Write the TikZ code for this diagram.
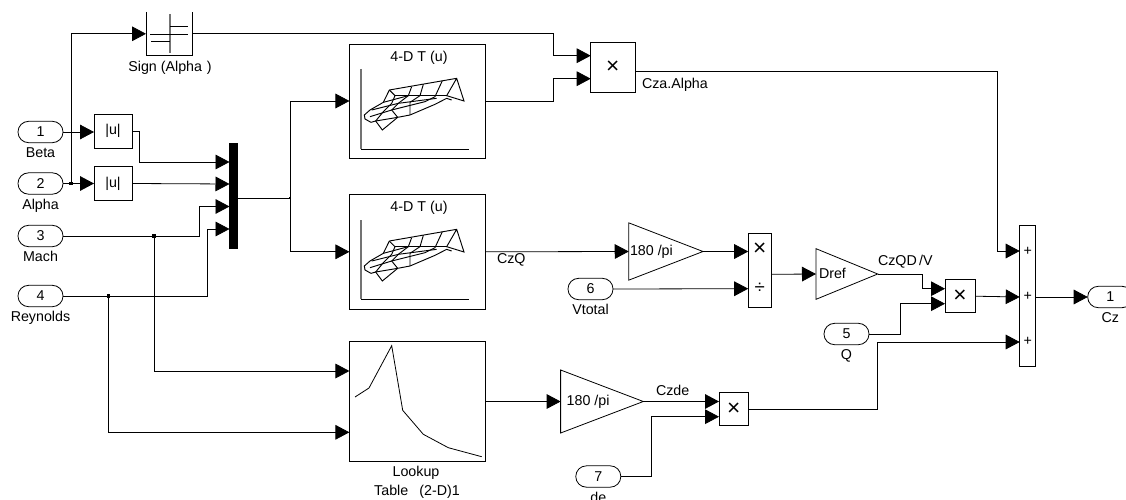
\documentclass[tikz,border=0pt]{standalone}
\usepackage{fontspec}
\setmainfont{Liberation Sans}
\usepackage{tikz}
\usetikzlibrary{shapes.geometric, arrows.meta}
\tikzstyle{arrow} = [line width=0.6pt,-{Triangle[length=10.5pt,width=11pt]}]
\tikzstyle{wire} = [line width=0.6pt]
\tikzstyle{block} = [rectangle, draw=black, line width=0.6pt, inner sep=0pt, outer sep=0pt, text centered]
\tikzstyle{port} = [rectangle, rounded corners=7.9pt, draw=black, line width=0.6pt, inner sep=0pt, outer sep=0pt, minimum width=33.75pt, minimum height=16pt, text centered]
\tikzstyle{gain} = [isosceles triangle, isosceles triangle stretches, draw=black, line width=0.6pt, inner sep=0pt, outer sep=0pt, anchor=apex]
\tikzstyle{junction} = [rectangle, fill=black, inner sep=0pt, minimum size=2.6pt]
\tikzstyle{tag} = [inner sep=0pt, outer sep=0pt, text height=7.6pt, text depth=2pt]
\newcommand{\meshicon}[1]{
	\begin{scope}[shift={#1},x=0.25pt,y=-0.25pt,line width=0.7pt]
		\draw (103,75) -- (305,40) -- (327,108) -- (275,92) -- (305,40);
		\draw (103,75) -- (85,112) -- (45,135) -- (28,150) -- (30,162) -- (48,172) -- (62,168) -- (82,195) -- (128,157) -- (165,150) -- (240,118) -- (275,100) -- (290,105);
		\draw (120,92) -- (275,92);
		\draw (85,112) -- (160,92);
		\draw (50,135) -- (130,115) -- (245,100);
		\draw (45,155) -- (110,135) -- (210,110);
		\draw (62,168) -- (128,157);
		\draw (103,75) -- (120,92) -- (110,115) -- (85,140) -- (62,168);
		\draw (170,65) -- (160,92) -- (130,115) -- (110,135) -- (128,157);
		\draw (205,58) -- (195,92) -- (165,112) -- (165,150);
		\draw (262,47) -- (240,95) -- (210,110);
	\end{scope}
}
\begin{document}
\begin{tikzpicture}[x=0.75pt,y=-0.75pt,node distance=16.5pt,font=\fontsize{10.7}{12}\selectfont]
		\clip (0,0) rectangle (1126,499);
		\useasboundingbox (0,0) rectangle (1126,499);
		\node (beta) [port] at (40.5,132) {1};
		\node (alpha) [port] at (40.5,183.5) {2};
		\node (mach) [port] at (40.5,236) {3};
		\node (reynolds) [port] at (40.5,296) {4};
		\node (betaTag) [tag, below of=beta] {Beta};
		\node (alphaTag) [tag, below of=alpha] {Alpha};
		\node (machTag) [tag, below of=mach] {Mach};
		\node (reynoldsTag) [tag, below of=reynolds] {Reynolds};
		\node (vtotal) [port] at (590.5,289) {6};
		\node (vtotalTag) [tag, below of=vtotal] {Vtotal};
		\node (q) [port] at (846.5,334) {5};
		\node (qTag) [tag, below of=q] {Q};
		\node (de) [port] at (598.3,476.5) {7};
		\node (deTag) [tag, below of=de] {de};
		\node (cz) [port] at (1110.2,297) {1};
		\node (czTag) [tag, below of=cz] {Cz};
		\node (absA) [block, minimum width=28.5pt, minimum height=25.5pt] at (113,131) {|u|};
		\node (absB) [block, minimum width=28.5pt, minimum height=25pt] at (113,183.5) {|u|};
		\node (mux) [block, fill=black, minimum width=5.6pt, minimum height=78.75pt] at (233.3,195.5) {};
		\coordinate (muxInA) at (229.5,162);
		\coordinate (muxInB) at (229.5,184);
		\coordinate (muxInC) at (229.5,206.5);
		\coordinate (muxInD) at (229.5,229);
		\coordinate (muxOut) at (237,198);
		\node (sign) [minimum width=34.5pt, minimum height=32.8pt, inner sep=0pt, outer sep=0pt] at (169,33.8) {};
		\draw [wire] (sign.north west) -- (sign.south west) -- (sign.south east) -- (sign.north east);
		\draw [line width=0.8pt, black!55] (170,14) -- (170,53);
		\draw [line width=0.6pt] (150,34) -- (188,34) (151,41) -- (170,41) (170,26) -- (188,26);
		\node (signTag) [tag] at (170,68) {Sign (Alpha\,\,)};
		\node (tableA) [block, minimum width=102.2pt, minimum height=85.5pt] at (417.6,101) {};
		\node (tableB) [block, minimum width=102.2pt, minimum height=86.4pt] at (417.6,251.8) {};
		\node (tableATag) [tag] at (419,58) {4-D T (u)};
		\node (tableBTag) [tag] at (419,208) {4-D T (u)};
		\draw [line width=0.8pt, black!55] (361,69) -- (361,149) (361,220) -- (361,299);
		\draw [line width=0.6pt] (361,149) -- (469,149) (361,299) -- (469,299);
		\meshicon{(355,65)}
		\meshicon{(355,216)}
		\node (lookup) [block, minimum width=102.3pt, minimum height=89.7pt] at (417.5,401.5) {};
		\draw [line width=0.6pt] (355,397) -- (369,388) -- (391.7,345.7) -- (402.7,410.3) -- (423.3,434.3) -- (448.3,447.7) -- (481.7,456.7);
		\node (lookupTagA) [tag] at (416,473) {Lookup};
		\node (lookupTagB) [tag] at (417,492) {Table\,\,\, (2-D)1};
		\node (prodA) [block, font=\fontsize{17}{17}\selectfont, minimum width=34.3pt, minimum height=37.5pt] at (612.8,67) {×};
		\coordinate (prodAInA) at (590.7,55.7);
		\coordinate (prodAInB) at (590.7,78.7);
		\coordinate (prodAOut) at (635.7,71.7);
		\node (prodATag) [tag, anchor=west] at (642,85) {Cza.Alpha};
		\node (gainA) [gain, minimum width=43pt, minimum height=55.7pt] at (703,251.5) {};
		\node (gainAText) [tag, anchor=west] at (630,252) {180 /pi};
		\node (czqTag) [tag, anchor=west] at (497,260) {CzQ};
		\node (prodB) [block, minimum width=17.25pt, minimum height=55.3pt] at (759.8,270.2) {};
		\node (prodBTimes) [tag, font=\fontsize{17}{17}\selectfont] at (759.8,251.7) {×};
		\node (prodBDiv) [tag, font=\fontsize{14}{14}\selectfont] at (759.8,289.7) {÷};
		\coordinate (prodBInA) at (748.2,251.5);
		\coordinate (prodBInB) at (748.2,288.7);
		\coordinate (prodBOut) at (771.3,274.3);
		\node (dref) [gain, minimum width=38pt, minimum height=46.3pt] at (877.7,274) {};
		\node (drefText) [tag, anchor=west] at (819,274.5) {Dref};
		\node (czqdTag) [tag, anchor=west] at (878,262) {CzQD\,/V};
		\node (prodC) [block, font=\fontsize{17}{17}\selectfont, minimum width=22.5pt, minimum height=24.75pt] at (960,296.2) {×};
		\coordinate (prodCInA) at (945,288.7);
		\coordinate (prodCInB) at (945,303.7);
		\node (sum) [block, minimum width=12pt, minimum height=105.75pt] at (1027.7,296.2) {};
		\node (sumPlusA) [tag] at (1027.7,251.5) {+};
		\node (sumPlusB) [tag] at (1027.7,297) {+};
		\node (sumPlusC) [tag] at (1027.7,342) {+};
		\coordinate (sumInA) at (1019.7,251);
		\coordinate (sumInB) at (1019.7,297);
		\coordinate (sumInC) at (1019.7,342);
		\node (gainC) [gain, minimum width=47.25pt, minimum height=62pt] at (643.3,401.5) {};
		\node (gainCText) [tag, anchor=west] at (566.7,402) {180 /pi};
		\node (czdeTag) [tag, anchor=west] at (656,391.7) {Czde};
		\node (prodD) [block, font=\fontsize{17}{17}\selectfont, minimum width=22.3pt, minimum height=24.75pt] at (733.8,408.8) {×};
		\coordinate (prodDInA) at (719,401.5);
		\coordinate (prodDInB) at (719,416.7);
		\coordinate (prodDOut) at (748.7,409.3);
		\coordinate (lookupInA) at (349.4,371);
		\coordinate (lookupInB) at (349.4,432.3);
		\node (dotAlpha) [junction] at (71,183.5) {};
		\node (dotMach) [junction] at (154,236) {};
		\node (dotReynolds) [junction] at (108.5,296) {};
		\node (dotMux) [junction, minimum size=2pt] at (290,198) {};
		\draw [arrow] (beta.east) -- (absA.west |- beta.east);
		\draw [arrow] (alpha.east) -- (absB.west |- alpha.east);
		\draw [arrow] (dotAlpha.center) |- (sign.west);
		\draw [arrow] (absA.east) -- ++(7,0) |- (muxInA);
		\draw [arrow] (absB.east) -- (muxInB);
		\draw [arrow] (mach.east) -- ++(136.5,0) |- (muxInC);
		\draw [arrow] (reynolds.east) -- ++(144,0) |- (muxInD);
		\draw [arrow] (dotMach.center) |- (lookupInA);
		\draw [arrow] (dotReynolds.center) |- (lookupInB);
		\draw [wire] (muxOut) -- (dotMux.center);
		\draw [arrow] (dotMux.center) |- (tableA.west);
		\draw [arrow] (dotMux.center) |- (tableB.west);
		\draw [arrow] (sign.east) -- ++(361,0) |- (prodAInA);
		\draw [arrow] (tableA.east) -- ++(67.5,0) |- (prodAInB);
		\draw [arrow] (prodAOut) -| (997,251) -- (sumInA);
		\draw [arrow] (tableB.east) -- (gainA.lower side);
		\draw [arrow] (gainA.apex) -- (prodBInA);
		\draw [arrow] (vtotal.east) -- (prodBInB);
		\draw [arrow] (prodBOut) -- (dref.lower side);
		\draw [arrow] (dref.apex) -- ++(44.6,0) |- (prodCInA);
		\draw [arrow] (q.east) -- ++(31,0) |- (prodCInB);
		\draw [arrow] (prodC.east) -- (sumInB);
		\draw [arrow] (sumInB -| sum.east) -- (cz.west);
		\draw [arrow] (lookup.east) -- (gainC.lower side);
		\draw [arrow] (gainC.apex) -- (prodDInA);
		\draw [arrow] (de.east) -- ++(30.7,0) |- (prodDInB);
		\draw [arrow] (prodDOut) -- ++(128.6,0) |- (sumInC);
	\end{tikzpicture}
\end{document}
